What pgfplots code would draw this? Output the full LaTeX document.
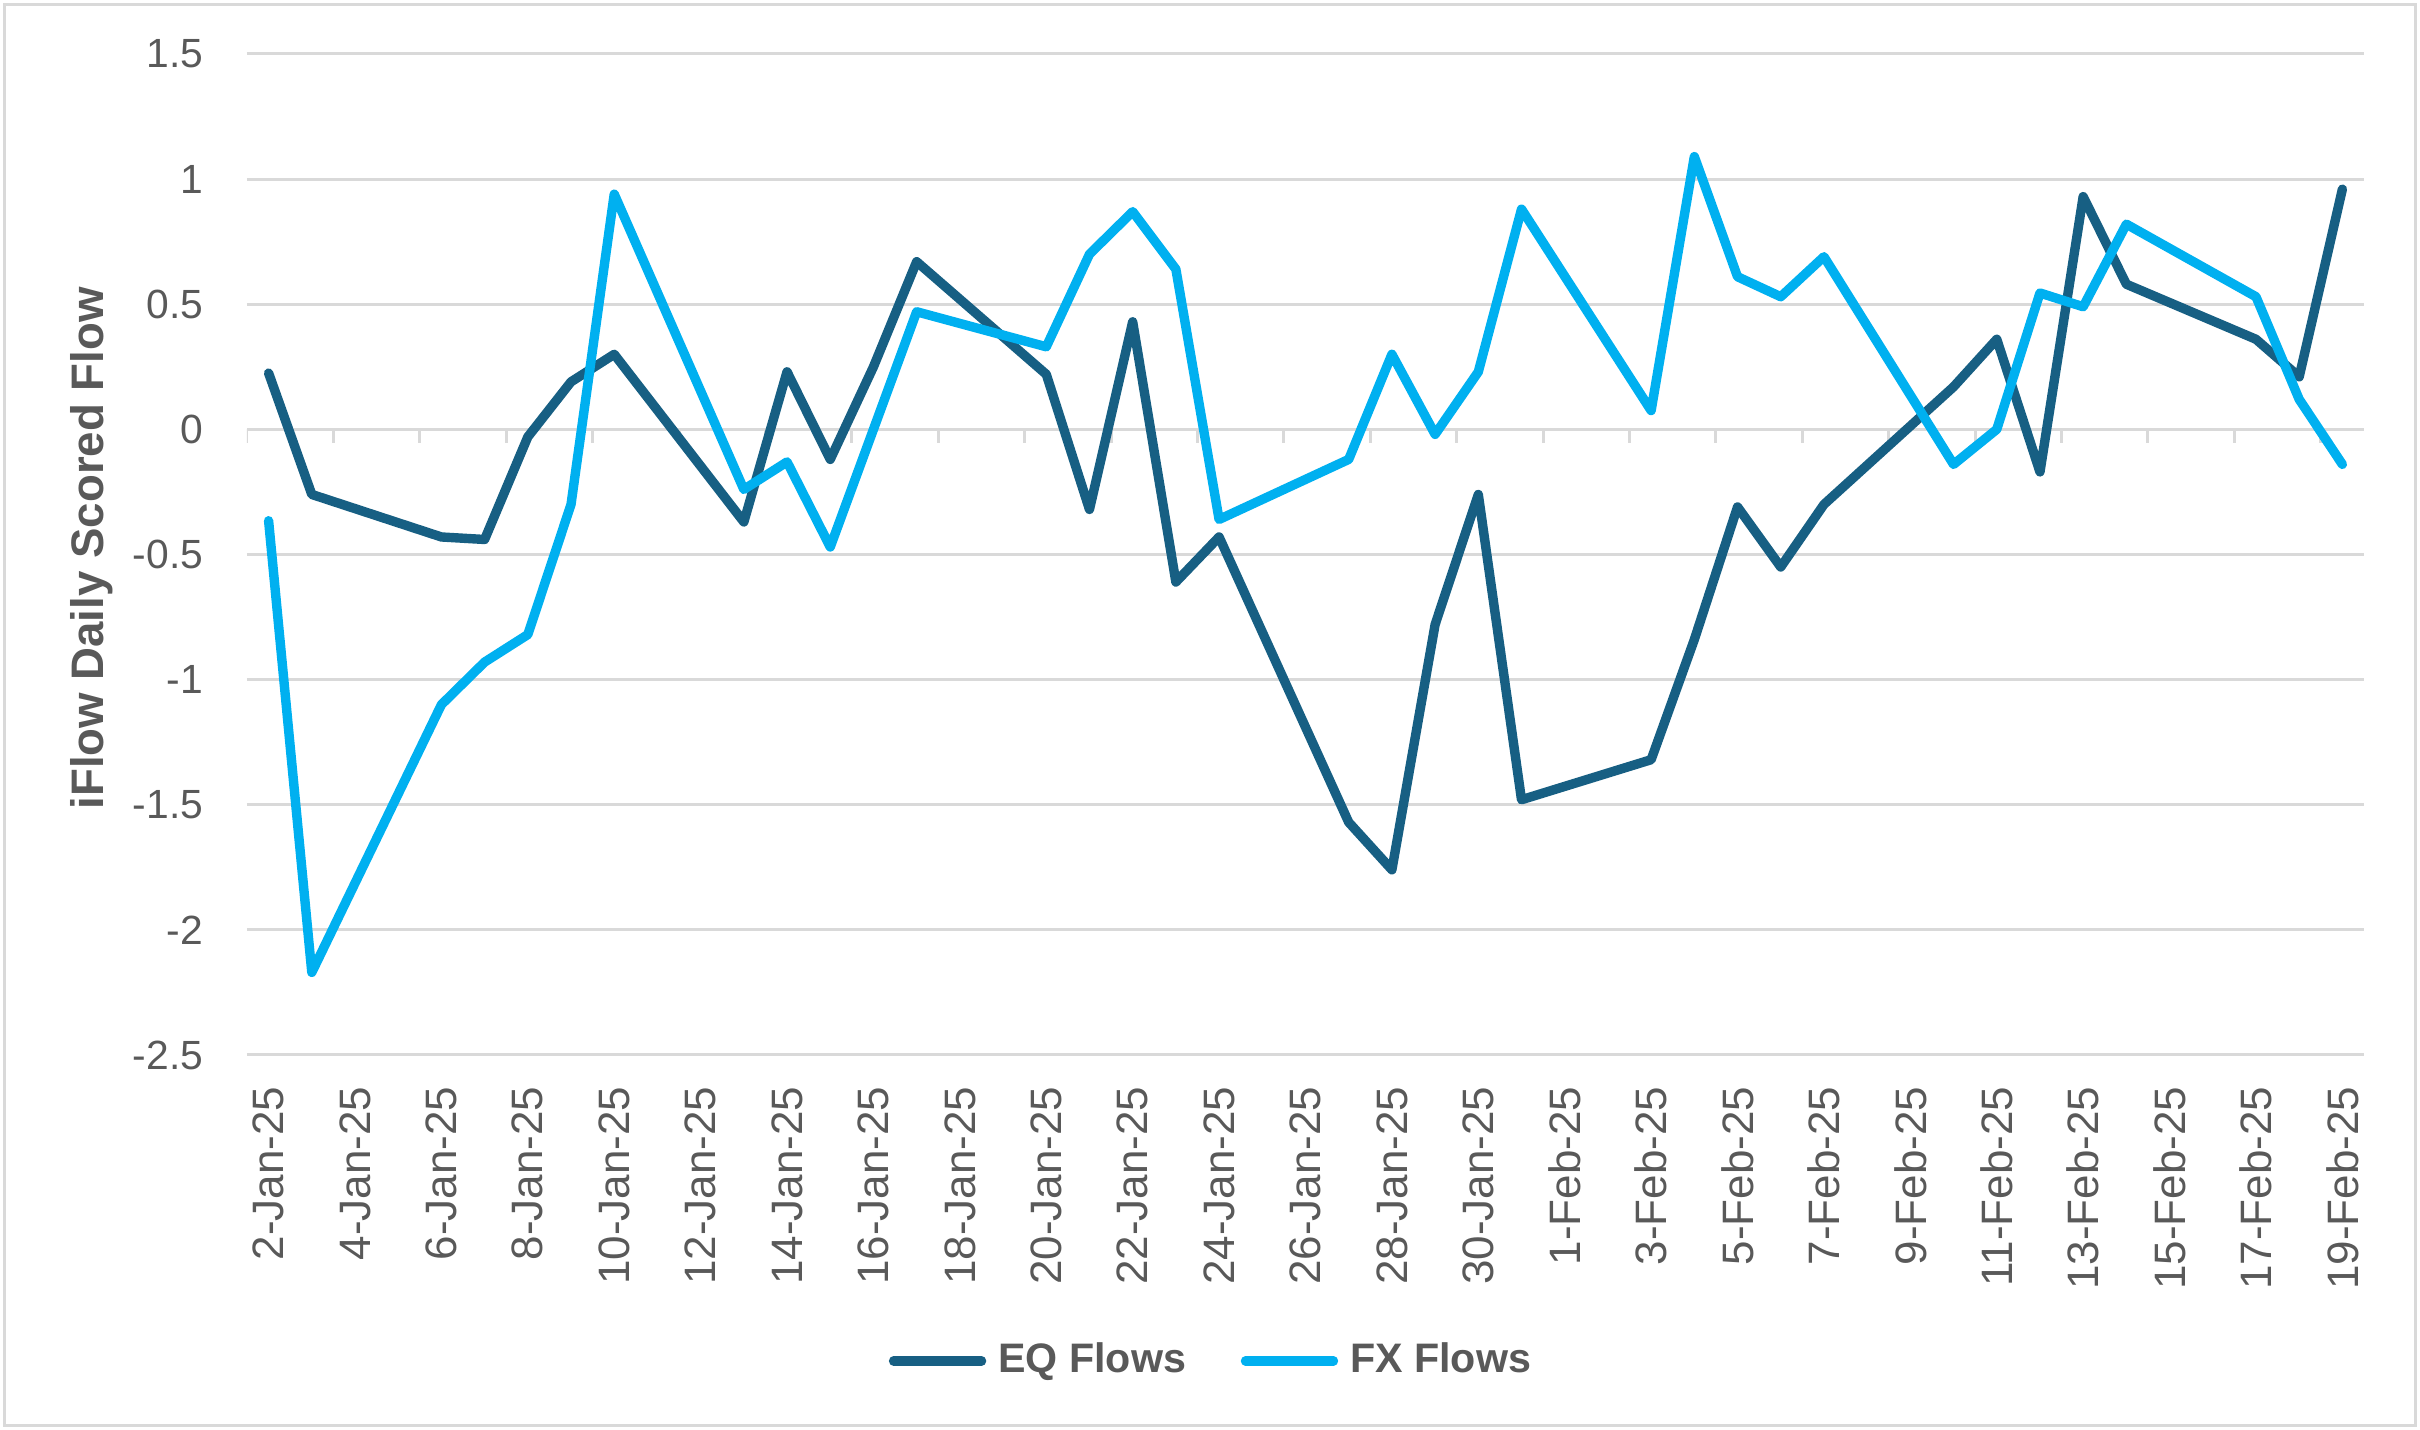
\documentclass[border=0pt]{standalone}
\usepackage{fontspec}
\setmainfont{Liberation Sans}
\usepackage{pgfplots}
\pgfplotsset{compat=1.18}
\definecolor{eqblue}{HTML}{175F83}
\definecolor{fxblue}{HTML}{00B0F0}
\definecolor{gridgray}{HTML}{D9D9D9}
\definecolor{labelgray}{HTML}{595959}

\begin{document}
\begin{tikzpicture}
\useasboundingbox (-61.75pt,-93.75pt) rectangle (543.25pt,263.75pt);
\draw[gridgray, line width=0.8pt] (-60.6pt,-92.6pt) rectangle (542.1pt,262.6pt);
\begin{axis}[
  at={(0,0)}, anchor=south west,
  scale only axis, width=529.25pt, height=250.25pt,
  xmin=0.5, xmax=49.5, ymin=-2.5, ymax=1.5,
  axis line style={draw=none},
  tick style={draw=none},
  ymajorgrids, grid style={gridgray, line width=0.75pt},
  ytick={-2.5,-2,-1.5,-1,-0.5,0,0.5,1,1.5},
  yticklabels={-2.5,-2,-1.5,-1,-0.5,0,0.5,1,1.5},
  xtick={1,3,...,49},
  xticklabels={2-Jan-25,4-Jan-25,6-Jan-25,8-Jan-25,10-Jan-25,12-Jan-25,14-Jan-25,16-Jan-25,18-Jan-25,20-Jan-25,22-Jan-25,24-Jan-25,26-Jan-25,28-Jan-25,30-Jan-25,1-Feb-25,3-Feb-25,5-Feb-25,7-Feb-25,9-Feb-25,11-Feb-25,13-Feb-25,15-Feb-25,17-Feb-25,19-Feb-25},
  tick label style={text=labelgray},
  xticklabel style={rotate=90, anchor=east, inner sep=0pt, font=\fontsize{11}{13}\selectfont},
  xticklabel shift=7.75pt,
  yticklabel style={anchor=east, inner sep=0pt, font=\fontsize{10.2}{12}\selectfont},
  yticklabel shift=10.75pt,
  ylabel={iFlow Daily Scored Flow},
  ylabel style={at={(axis description cs:-0.0732,0.506)}, anchor=center,
    font=\bfseries\fontsize{11.4}{13}\selectfont, text=labelgray},
  legend columns=2,
  legend style={at={(0.4577,-0.3057)}, anchor=center, draw=none,
    font=\bfseries\fontsize{10.3}{12}\selectfont, text=labelgray,
    nodes={inner xsep=3pt},
    /tikz/every even column/.append style={column sep=10.7pt}},
  legend image code/.code={\draw[#1] (0pt,0pt) -- (22pt,0pt);},
]
% tick marks hanging off the zero line
\pgfplotsinvokeforeach{0.5,2.5,...,48.5}{
  \draw[gridgray, line width=0.75pt] (axis cs:#1,0) -- ([yshift=-3.5pt]axis cs:#1,0);
}
\addplot[eqblue, line width=2.35pt, line join=round, line cap=round] coordinates {
  (1,0.225) (2,-0.26) (5,-0.43) (6,-0.44) (7,-0.03) (8,0.19) (9,0.30)
  (12,-0.37) (13,0.23) (14,-0.12) (15,0.25) (16,0.67)
  (19,0.22) (20,-0.32) (21,0.43) (22,-0.61) (23,-0.43)
  (26,-1.57) (27,-1.76) (28,-0.78) (29,-0.26) (30,-1.48)
  (33,-1.32) (34,-0.84) (35,-0.31) (36,-0.55) (37,-0.30)
  (40,0.17) (41,0.36) (42,-0.17) (43,0.93) (44,0.58)
  (47,0.36) (48,0.21) (49,0.96)
};
\addlegendentry{EQ Flows}
\addplot[fxblue, line width=2.35pt, line join=round, line cap=round] coordinates {
  (1,-0.365) (2,-2.17) (5,-1.10) (6,-0.93) (7,-0.82) (8,-0.30) (9,0.94)
  (12,-0.24) (13,-0.13) (14,-0.47) (15,0.0) (16,0.47)
  (19,0.33) (20,0.70) (21,0.87) (22,0.64) (23,-0.36)
  (26,-0.12) (27,0.30) (28,-0.02) (29,0.23) (30,0.88)
  (33,0.075) (34,1.09) (35,0.61) (36,0.53) (37,0.69)
  (40,-0.14) (41,0.0) (42,0.545) (43,0.49) (44,0.82)
  (47,0.53) (48,0.12) (49,-0.14)
};
\addlegendentry{FX Flows}
\end{axis}
\end{tikzpicture}
\end{document}
